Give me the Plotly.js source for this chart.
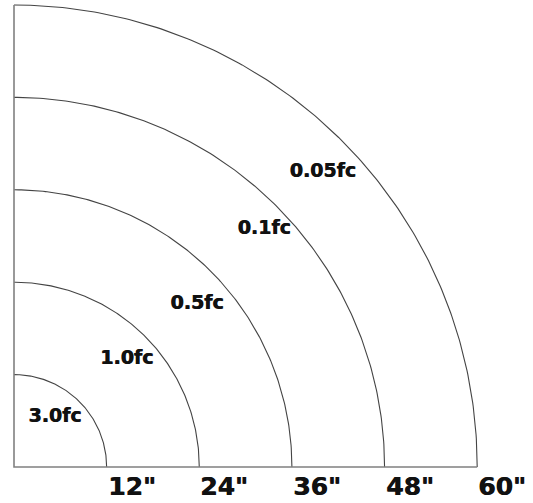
<!DOCTYPE html>
<html><head><meta charset="utf-8">
<script src="https://cdn.plot.ly/plotly-3.0.1.min.js"></script>
<style>html,body{margin:0;padding:0;background:#fff}#chart{width:533px;height:503px}</style>
</head><body><div id="chart"></div>
<script>
const radii = [12, 24, 36, 48, 60];
const tickLabels = ['12"', '24"', '36"', '48"', '60"'];
const zoneLabels = ['3.0fc', '1.0fc', '0.5fc', '0.1fc', '0.05fc'];
const zoneX = [5.3, 14.6, 23.7, 32.4, 40.0];
const zoneY = [6.4, 14.0, 21.2, 30.9, 38.3];

const traces = [];
radii.forEach(r => {
  const xs = [], ys = [];
  for (let i = 0; i <= 180; i++) {
    const a = (Math.PI / 2) * i / 180;
    xs.push(r * Math.cos(a)); ys.push(r * Math.sin(a));
  }
  traces.push({x: xs, y: ys, mode: 'lines', line: {color: '#444', width: 1.1}, hoverinfo: 'skip'});
});
const rMax = Math.max(...radii);
traces.push({x: [0, 0, rMax], y: [rMax, 0, 0], mode: 'lines', line: {color: '#808080', width: 1.6}, hoverinfo: 'skip'});
traces.push({x: zoneX, y: zoneY, mode: 'text', text: zoneLabels, textposition: 'middle center',
  textfont: {family: 'DejaVu Sans', size: 19, color: '#111', weight: 'bold', shadow: '0.6px 0 0 #111'}, hoverinfo: 'skip'});

const annotations = radii.map((r, i) => ({
  x: r, y: -2.5, xref: 'x', yref: 'y', text: '<b>' + tickLabels[i] + '</b>', showarrow: false,
  xanchor: 'left', yanchor: 'middle', borderpad: 0,
  font: {family: 'DejaVu Sans', size: 25, color: '#111', shadow: '0.7px 0 0 #111'}
}));

const layout = {
  width: 533, height: 503, margin: {l: 0, r: 0, t: 0, b: 0},
  paper_bgcolor: '#fff', plot_bgcolor: '#fff', showlegend: false,
  xaxis: {range: [-14 / 7.72, 519 / 7.72], visible: false, fixedrange: true},
  yaxis: {range: [-36 / 7.7, 467 / 7.7], visible: false, fixedrange: true},
  annotations: annotations
};
Plotly.newPlot('chart', traces, layout, {displayModeBar: false, staticPlot: true});
</script></body></html>
